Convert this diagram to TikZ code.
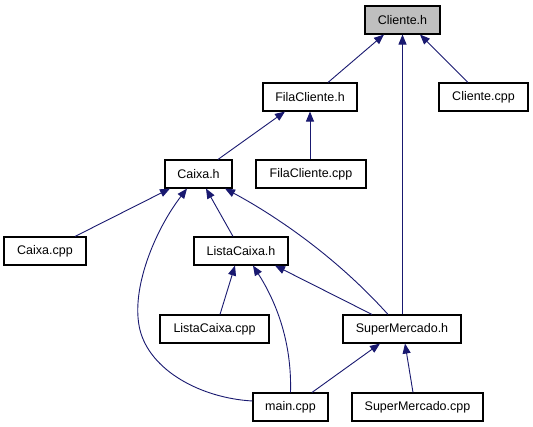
\documentclass[tikz,border=0pt]{standalone}
\usepackage{fontspec}
\setmainfont{Liberation Sans}
\usetikzlibrary{arrows.meta}
\definecolor{edgeblue}{HTML}{191970}
\definecolor{hifill}{HTML}{BFBFBF}
\begin{document}
\begin{tikzpicture}[x=1pt,y=-1pt,
  file/.style={draw=black, line width=1.1pt, fill=white, minimum height=28pt, inner sep=0pt, font=\fontsize{12.5}{15}\selectfont, anchor=center},
  dep/.style={draw=edgeblue, line width=0.9pt, {Triangle[length=10pt,width=8pt]}-}]
\useasboundingbox[fill=white] (0,0) rectangle (533,427);
\node[file, fill=hifill, minimum width=75pt] (ch) at (402.5,20) {Cliente.h};
\node[file, minimum width=94pt] (fch) at (310,97) {FilaCliente.h};
\node[file, minimum width=89pt] (ccpp) at (483.5,97) {Cliente.cpp};
\node[file, minimum width=67pt] (caixa) at (198.5,174) {Caixa.h};
\node[file, minimum width=110pt] (fcc) at (311,174) {FilaCliente.cpp};
\node[file, minimum width=82pt] (caixacpp) at (45,251) {Caixa.cpp};
\node[file, minimum width=94pt] (lch) at (241,251) {ListaCaixa.h};
\node[file, minimum width=109pt] (lcc) at (214.5,329) {ListaCaixa.cpp};
\node[file, minimum width=118pt] (smh) at (402,329) {SuperMercado.h};
\node[file, minimum width=75pt] (main) at (290.5,407) {main.cpp};
\node[file, minimum width=131pt] (smc) at (417.5,407) {SuperMercado.cpp};

\draw[dep] ([xshift=-18.5pt]ch.south) -- ([xshift=18pt]fch.north);
\draw[dep] (ch.south) -- (ch.south |- smh.north);
\draw[dep] ([xshift=17.5pt]ch.south) -- ([xshift=-15.5pt]ccpp.north);
\draw[dep] ([xshift=-25pt]fch.south) -- ([xshift=19.5pt]caixa.north);
\draw[dep] (fch.south) -- (fch.south |- fcc.north);
\draw[dep] ([xshift=-28.5pt]caixa.south) -- ([xshift=30pt]caixacpp.north);
\draw[dep] ([xshift=-11.5pt]caixa.south) .. controls (155,230) and (130,290) .. (140,330) .. controls (150,370) and (200,398) .. ([yshift=6pt]main.west);
\draw[dep] ([xshift=7.5pt]caixa.south) -- ([xshift=-8pt]lch.north);
\draw[dep] ([xshift=26.5pt]caixa.south) .. controls (265,210) and (330,250) .. ([xshift=-14pt]smh.north);
\draw[dep] ([xshift=-6pt]lch.south) -- ([xshift=5.5pt]lcc.north);
\draw[dep] ([xshift=12pt]lch.south) .. controls (275,300) and (292,340) .. (main.north);
\draw[dep] ([xshift=34pt]lch.south) -- ([xshift=-30pt]smh.north);
\draw[dep] ([xshift=-22pt]smh.south) -- ([xshift=21.5pt]main.north);
\draw[dep] ([xshift=3pt]smh.south) -- ([xshift=-4.5pt]smc.north);
\end{tikzpicture}
\end{document}
